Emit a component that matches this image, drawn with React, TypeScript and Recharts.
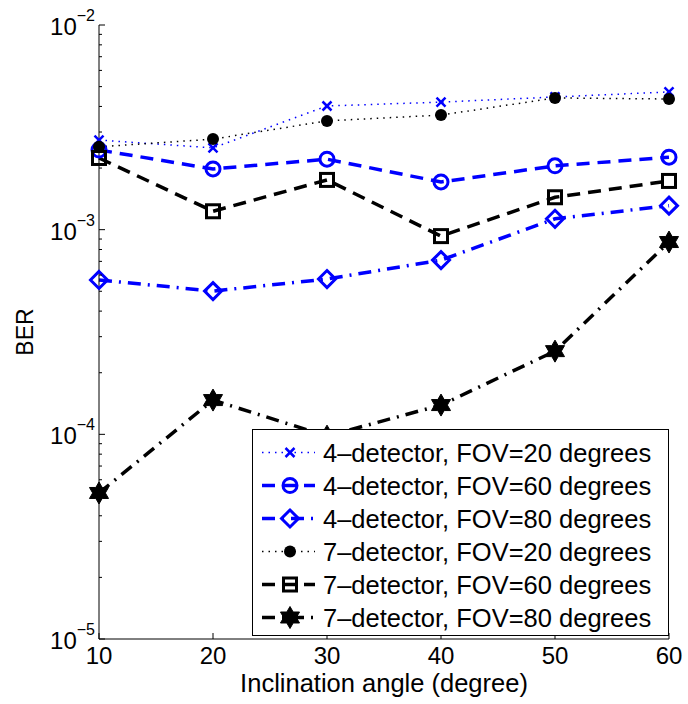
import React from 'react'
import { LineChart, Line, XAxis, YAxis, Legend } from 'recharts'

// inclination angles (degree)
const angles = [10, 20, 30, 40, 50, 60]

// BER values
const det4Fov20 = [2.74e-3, 2.51e-3, 4.02e-3, 4.2e-3, 4.45e-3, 4.71e-3]
const det4Fov60 = [2.45e-3, 1.98e-3, 2.21e-3, 1.71e-3, 2.05e-3, 2.26e-3]
const det4Fov80 = [5.68e-4, 5.01e-4, 5.74e-4, 7.1e-4, 1.13e-3, 1.31e-3]
const det7Fov20 = [2.54e-3, 2.77e-3, 3.4e-3, 3.63e-3, 4.4e-3, 4.35e-3]
const det7Fov60 = [2.24e-3, 1.23e-3, 1.75e-3, 9.3e-4, 1.44e-3, 1.73e-3]
const det7Fov80 = [5.17e-5, 1.47e-4, 9.8e-5, 1.39e-4, 2.55e-4, 8.7e-4]

const xTicks = [10, 20, 30, 40, 50, 60]
const decades = [1e-5, 1e-4, 1e-3, 1e-2]
const minorSteps = [2, 3, 4, 5, 6, 7, 8, 9]

const FONT = '"Liberation Sans", Arial, Helvetica, sans-serif'
const BLUE = '#0000ff'
const BLACK = '#000000'

type MarkerKind = 'x' | 'circle' | 'diamond' | 'dot' | 'square' | 'star'

interface SeriesDef {
  key: string
  name: string
  values: number[]
  color: string
  dash: string
  width: number
  marker: MarkerKind
}

const series: SeriesDef[] = [
  { key: 'd4f20', name: '4\u2013detector, FOV=20 degrees', values: det4Fov20, color: BLUE, dash: '1.5 5', width: 1.5, marker: 'x' },
  { key: 'd4f60', name: '4\u2013detector, FOV=60 degrees', values: det4Fov60, color: BLUE, dash: '13 8', width: 3.5, marker: 'circle' },
  { key: 'd4f80', name: '4\u2013detector, FOV=80 degrees', values: det4Fov80, color: BLUE, dash: '13 7 2 7', width: 3.5, marker: 'diamond' },
  { key: 'd7f20', name: '7\u2013detector, FOV=20 degrees', values: det7Fov20, color: BLACK, dash: '1.5 5', width: 1.5, marker: 'dot' },
  { key: 'd7f60', name: '7\u2013detector, FOV=60 degrees', values: det7Fov60, color: BLACK, dash: '13 8', width: 3.5, marker: 'square' },
  { key: 'd7f80', name: '7\u2013detector, FOV=80 degrees', values: det7Fov80, color: BLACK, dash: '13 7 2 7', width: 3.5, marker: 'star' },
]

const data = angles.map((angle, i) => {
  const row: Record<string, number> = { angle }
  series.forEach((s) => { row[s.key] = s.values[i] })
  return row
})

const yTicks: number[] = []
decades.forEach((d, i) => {
  yTicks.push(d)
  if (i < decades.length - 1) minorSteps.forEach((m) => yTicks.push(d * m))
})

function starPoints(cx: number, cy: number, r: number) {
  const inner = r * 0.577
  const pts: string[] = []
  for (let k = 0; k < 12; k++) {
    const rad = k % 2 === 0 ? r : inner
    const a = (Math.PI / 6) * k - Math.PI / 2
    pts.push(`${cx + rad * Math.cos(a)},${cy + rad * Math.sin(a)}`)
  }
  return pts.join(' ')
}

function Marker({ kind, cx, cy, color }: { kind: MarkerKind; cx: number; cy: number; color: string }) {
  switch (kind) {
    case 'x':
      return (
        <g stroke={color} strokeWidth={2.5}>
          <line x1={cx - 4.5} y1={cy - 4.5} x2={cx + 4.5} y2={cy + 4.5} />
          <line x1={cx - 4.5} y1={cy + 4.5} x2={cx + 4.5} y2={cy - 4.5} />
        </g>
      )
    case 'circle':
      return <circle cx={cx} cy={cy} r={7} fill="none" stroke={color} strokeWidth={3} />
    case 'diamond':
      return (
        <polygon
          points={`${cx},${cy - 8.5} ${cx + 8.5},${cy} ${cx},${cy + 8.5} ${cx - 8.5},${cy}`}
          fill="none" stroke={color} strokeWidth={3}
        />
      )
    case 'dot':
      return <circle cx={cx} cy={cy} r={6} fill={color} stroke="none" />
    case 'square':
      return <rect x={cx - 6.5} y={cy - 6.5} width={13} height={13} fill="none" stroke={color} strokeWidth={3} />
    case 'star':
      return <polygon points={starPoints(cx, cy, 11)} fill={color} stroke={color} strokeWidth={1} />
  }
}

function YTick({ x, y, payload }: any) {
  const v = payload.value
  const exp = Math.log10(v)
  const major = Math.abs(exp - Math.round(exp)) < 1e-6
  return (
    <g>
      <line x1={x} x2={x + (major ? 6 : 3)} y1={y} y2={y} stroke="#000" strokeWidth={1} />
      {major && (
        <text x={x - 4} y={y + 10} textAnchor="end" fontFamily={FONT} fontSize={24} fill="#000">
          10
          <tspan dy={-14} fontSize={16}>{'\u2212' + Math.abs(Math.round(exp))}</tspan>
        </text>
      )}
    </g>
  )
}

function XTick({ x, y, payload }: any) {
  return (
    <g>
      <line x1={x} x2={x} y1={y} y2={y - 6} stroke="#000" strokeWidth={1} />
      <text x={x} y={y + 25} textAnchor="middle" fontFamily={FONT} fontSize={24} fill="#000">
        {payload.value}
      </text>
    </g>
  )
}

const renderLegend = () => (
  <svg width={417} height={207} style={{ display: 'block' }}>
    <rect x={0.5} y={0.5} width={416} height={206} fill="#fff" stroke="#000" strokeWidth={1} />
    {series.map((s, i) => {
      const cy = 23.5 + i * 33
      return (
        <g key={s.key}>
          <line x1={10} x2={63} y1={cy} y2={cy} stroke={s.color} strokeWidth={s.width} strokeDasharray={s.dash} />
          <Marker kind={s.marker} cx={38} cy={cy} color={s.color} />
          <text x={71} y={cy + 9} fontFamily={FONT} fontSize={25.5} fill="#000">{s.name}</text>
        </g>
      )
    })}
  </svg>
)

export default function App() {
  return (
    <div style={{ position: 'absolute', left: 0, top: 0, background: '#fff' }}>
      <LineChart width={688} height={704} data={data} margin={{ top: 25, right: 19, bottom: 0, left: 0 }}>
        <XAxis
          dataKey="angle"
          type="number"
          domain={[10, 60]}
          ticks={xTicks}
          interval={0}
          height={65}
          tickSize={0}
          tickMargin={0}
          stroke="#000"
          tick={<XTick />}
          label={({ viewBox }: any) => (
            <text
              x={viewBox.x + viewBox.width / 2}
              y={viewBox.y + 53}
              textAnchor="middle"
              fontFamily={FONT}
              fontSize={25.5}
              fill="#000"
            >
              Inclination angle (degree)
            </text>
          )}
        />
        <YAxis
          scale="log"
          domain={[1e-5, 1e-2]}
          ticks={yTicks}
          interval={0}
          width={99}
          tickSize={0}
          tickMargin={0}
          stroke="#000"
          tick={<YTick />}
          label={({ viewBox }: any) => (
            <text
              x={25}
              y={viewBox.y + viewBox.height / 2}
              transform={`rotate(-90, 25, ${viewBox.y + viewBox.height / 2})`}
              textAnchor="middle"
              dominantBaseline="central"
              fontFamily={FONT}
              fontSize={23}
              fill="#000"
            >
              BER
            </text>
          )}
        />
        <Legend
          layout="horizontal"
          verticalAlign="middle"
          align="center"
          width={417}
          height={207}
          wrapperStyle={{ left: 252, top: 429, width: 417, height: 207 }}
          content={renderLegend}
        />
        {series.map((s) => (
          <Line
            key={s.key}
            dataKey={s.key}
            name={s.name}
            type="linear"
            stroke={s.color}
            strokeWidth={s.width}
            strokeDasharray={s.dash}
            isAnimationActive={false}
            dot={(p: any) => (
              <Marker key={`${s.key}-${p.index}`} kind={s.marker} cx={p.cx} cy={p.cy} color={s.color} />
            )}
            activeDot={false}
          />
        ))}
      </LineChart>
    </div>
  )
}
